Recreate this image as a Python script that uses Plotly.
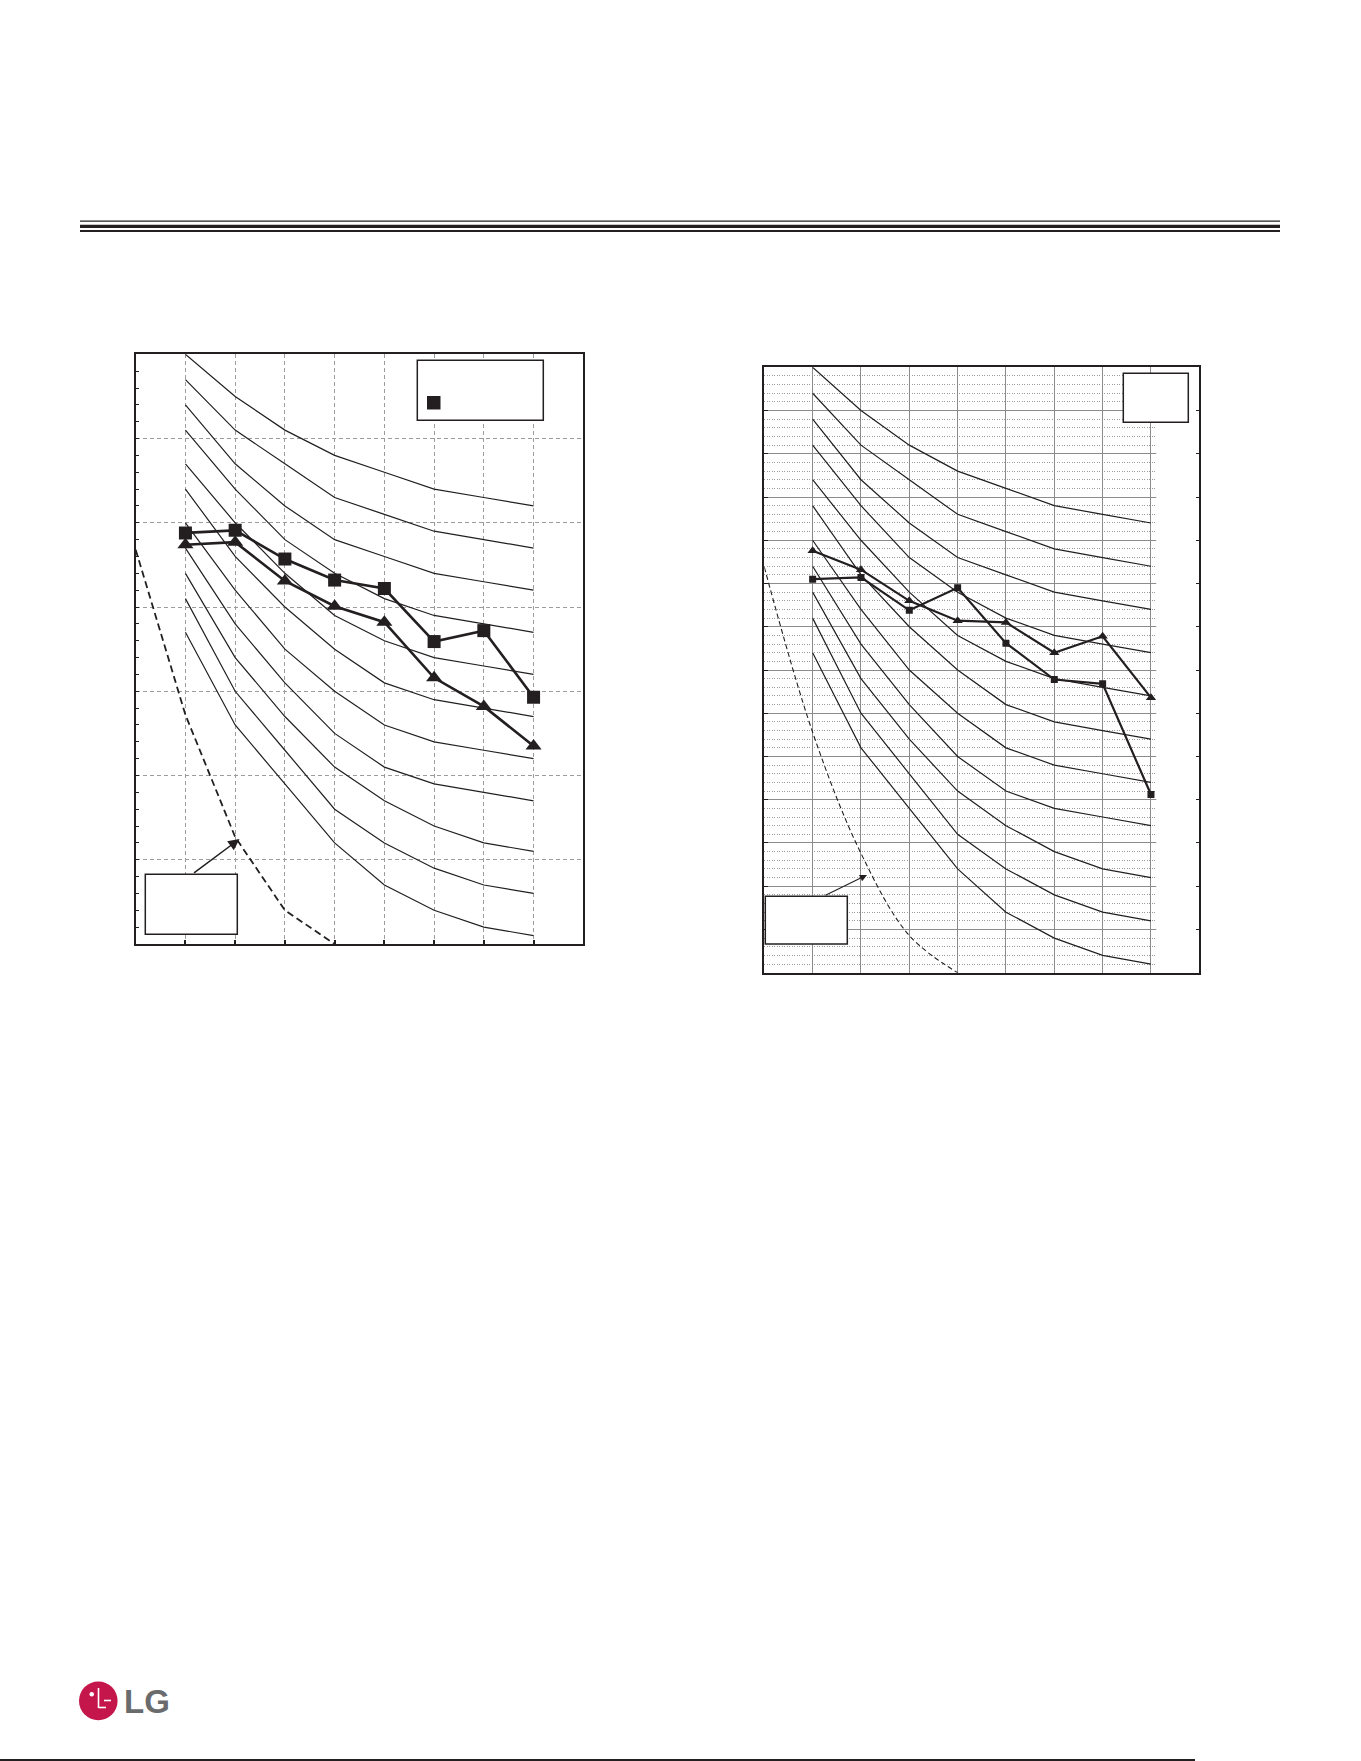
import plotly.graph_objects as go

# ---------------- data ----------------
freq_labels = ['31.5', '63', '125', '250', '500', '1k', '2k', '4k', '8k']
bands = freq_labels[1:]                      # octave bands with NC values
band_pos = [freq_labels.index(b) for b in bands]

# NC curves (dB) at 63..8k Hz
nc15 = [47, 36, 29, 22, 17, 14, 12, 11]
nc20 = [51, 40, 33, 26, 22, 19, 17, 16]
nc25 = [54, 44, 37, 31, 27, 24, 22, 21]
nc30 = [57, 48, 41, 35, 31, 29, 28, 27]
nc35 = [60, 52, 45, 40, 36, 34, 33, 32]
nc40 = [64, 56, 50, 45, 41, 39, 38, 37]
nc45 = [67, 60, 54, 49, 46, 44, 43, 42]
nc50 = [71, 64, 58, 54, 51, 49, 48, 47]
nc55 = [74, 67, 62, 58, 56, 54, 53, 52]
nc60 = [77, 71, 67, 63, 61, 59, 58, 57]
nc65 = [80, 75, 71, 68, 66, 64, 63, 62]
nc_curves = [nc15, nc20, nc25, nc30, nc35, nc40, nc45, nc50, nc55, nc60, nc65]

# threshold of hearing (dashed) 31.5..500 Hz
thr_labels = ['31.5', '63', '125', '250', '500']
thr_pos = [freq_labels.index(f) for f in thr_labels]
left_threshold = [56.8, 37.2, 22.7, 14.0, 10.0]
right_threshold = [56.9, 37.8, 23.8, 14.3, 10.0]

# measured series
left_square = [58.8, 59.1, 55.7, 53.2, 52.2, 45.9, 47.2, 39.3]
left_triangle = [57.4, 57.7, 53.1, 50.1, 48.2, 41.6, 38.2, 33.5]
right_square = [55.5, 55.7, 51.9, 54.5, 48.1, 43.9, 43.4, 30.6]
right_triangle = [58.8, 56.6, 53.0, 50.7, 50.5, 47.0, 48.9, 41.8]

# ---------------- helpers ----------------
W, H = 1361, 1761
INK = '#231f20'


def px(x):
    return x / W


def py(y):
    return 1 - y / H


fig = go.Figure()

# ---------------- left chart ----------------
for nc in nc_curves:
    fig.add_trace(go.Scatter(x=band_pos, y=nc, mode='lines',
                             line=dict(color=INK, width=1.2),
                             xaxis='x', yaxis='y', hoverinfo='skip'))
fig.add_trace(go.Scatter(x=thr_pos, y=left_threshold, mode='lines',
                         line=dict(color=INK, width=1.8, dash='7px,4px'),
                         xaxis='x', yaxis='y', hoverinfo='skip'))
fig.add_trace(go.Scatter(x=band_pos, y=left_triangle, mode='lines+markers',
                         line=dict(color=INK, width=2.6),
                         marker=dict(symbol='triangle-up', size=14, color=INK),
                         xaxis='x', yaxis='y'))
fig.add_trace(go.Scatter(x=band_pos, y=left_square, mode='lines+markers',
                         line=dict(color=INK, width=2.6),
                         marker=dict(symbol='square', size=13, color=INK),
                         xaxis='x', yaxis='y'))

# ---------------- right chart ----------------
for nc in nc_curves:
    fig.add_trace(go.Scatter(x=band_pos, y=nc, mode='lines',
                             line=dict(color=INK, width=1.2),
                             xaxis='x2', yaxis='y2', hoverinfo='skip'))
fig.add_trace(go.Scatter(x=thr_pos, y=right_threshold, mode='lines',
                         line=dict(color=INK, width=1.1, dash='5px,3px', shape='spline'),
                         xaxis='x2', yaxis='y2', hoverinfo='skip'))
fig.add_trace(go.Scatter(x=band_pos, y=right_triangle, mode='lines+markers',
                         line=dict(color=INK, width=2.2),
                         marker=dict(symbol='triangle-up', size=9, color=INK),
                         xaxis='x2', yaxis='y2'))
fig.add_trace(go.Scatter(x=band_pos, y=right_square, mode='lines+markers',
                         line=dict(color=INK, width=2.2),
                         marker=dict(symbol='square', size=7, color=INK),
                         xaxis='x2', yaxis='y2'))

# ---------------- axes ----------------
common_x = dict(range=[0, 9], tickvals=band_pos, showticklabels=False,
                zeroline=False, showline=True, linecolor=INK, mirror=True)
common_y = dict(range=[10, 80], showticklabels=False, zeroline=False,
                showline=True, linecolor=INK, tick0=10)

fig.update_layout(
    width=W, height=H,
    margin=dict(l=0, r=0, t=0, b=0),
    paper_bgcolor='white', plot_bgcolor='white',
    showlegend=False,
    xaxis=dict(domain=[px(135.7), px(583.3)], anchor='y',
               showgrid=True, gridcolor='#9c9c9c', gridwidth=1, griddash='4px,3px',
               ticks='inside', ticklen=4, tickcolor=INK, tickwidth=1.5,
               linewidth=2, **common_x),
    yaxis=dict(domain=[py(944), py(354.3)], anchor='x', dtick=10, mirror=True,
               showgrid=True, gridcolor='#9c9c9c', gridwidth=1, griddash='4px,3px',
               ticks='inside', ticklen=3, tickcolor=INK, tickwidth=1.2,
               minor=dict(dtick=2, tick0=10, ticks='inside', ticklen=3,
                          tickcolor=INK, tickwidth=1.2, showgrid=False),
               linewidth=2, **common_y),
    xaxis2=dict(domain=[px(764.3), px(1199.3)], anchor='y2',
                showgrid=True, gridcolor='#8c8c8c', gridwidth=1.2,
                ticks='', linewidth=1.6, **common_x),
    yaxis2=dict(domain=[py(972.7), py(367.3)], anchor='x2', dtick=5,
                showgrid=True, gridcolor='#8c8c8c', gridwidth=1.2,
                ticks='inside', ticklen=4, tickcolor=INK, tickwidth=1,
                mirror='ticks',
                minor=dict(dtick=1, tick0=10, showgrid=True, gridcolor='#9a9a9a',
                           gridwidth=1, griddash='1px,1.5px', ticks=''),
                linewidth=1.6, **common_y),
)

shapes = []
# right chart: grid stops short of the right frame
shapes.append(dict(type='rect', xref='x2', yref='y2', x0=8.11, x1=9, y0=10, y1=80,
                   fillcolor='white', line=dict(width=0), layer='between'))


def rect_px(x0, y0, x1, y1, fill='white', lw=1.5, lc=INK):
    return dict(type='rect', xref='paper', yref='paper',
                x0=px(x0), x1=px(x1), y0=py(y1), y1=py(y0),
                fillcolor=fill, line=dict(color=lc, width=lw), layer='above')


def line_px(x0, y0, x1, y1, w, c=INK):
    return dict(type='line', xref='paper', yref='paper',
                x0=px(x0), x1=px(x1), y0=py(y0), y1=py(y1),
                line=dict(color=c, width=w), layer='above')


# header rules
shapes.append(line_px(80, 221.2, 1280, 221.2, 1.3))
shapes.append(line_px(80, 226.4, 1280, 226.4, 3.2))
shapes.append(line_px(80, 230.9, 1280, 230.9, 2.0))

# left legend box + marker swatch
shapes.append(rect_px(417.3, 360.3, 543.3, 420.3))
shapes.append(rect_px(427, 396, 440.5, 409.5, fill=INK, lw=0))
# left callout box
shapes.append(rect_px(145.3, 874.3, 237.3, 934.3))
# right legend box
shapes.append(rect_px(1123.3, 373.3, 1188.3, 422.3))
# right callout box
shapes.append(rect_px(765.3, 896.3, 847.3, 944))

# bottom rule
shapes.append(line_px(0, 1760, 1195, 1760, 2))

# LG logo mark
shapes.append(dict(type='circle', xref='paper', yref='paper',
                   x0=px(79), x1=px(117.6), y0=py(1720.2), y1=py(1681.4),
                   fillcolor='#c4164b', line=dict(width=0), layer='above'))
shapes.append(dict(type='circle', xref='paper', yref='paper',
                   x0=px(89.5), x1=px(94), y0=py(1696.5), y1=py(1692),
                   fillcolor='white', line=dict(width=0), layer='above'))
shapes.append(line_px(98.5, 1688, 98.5, 1708, 1.6, 'white'))
shapes.append(line_px(98.5, 1707.5, 106, 1707.5, 1.6, 'white'))
shapes.append(line_px(104, 1700.5, 111, 1700.5, 1.6, 'white'))

fig.update_layout(shapes=shapes)

annotations = [
    dict(xref='paper', yref='paper', x=px(239.5), y=py(839), ax=-47, ay=35,
         text='', showarrow=True, arrowhead=2, arrowsize=1.5, arrowwidth=1.5,
         arrowcolor=INK, standoff=0),
    dict(xref='paper', yref='paper', x=px(867), y=py(875), ax=-43, ay=21,
         text='', showarrow=True, arrowhead=2, arrowsize=1.3, arrowwidth=1.1,
         arrowcolor=INK, standoff=0),
    dict(xref='paper', yref='paper', x=px(122), y=py(1701), xanchor='left',
         yanchor='middle', text='<b>LG</b>', showarrow=False,
         font=dict(family='Liberation Sans, Arial, sans-serif', size=33, color='#6a6b6d')),
]
fig.update_layout(annotations=annotations)

fig.write_html('out.html')
